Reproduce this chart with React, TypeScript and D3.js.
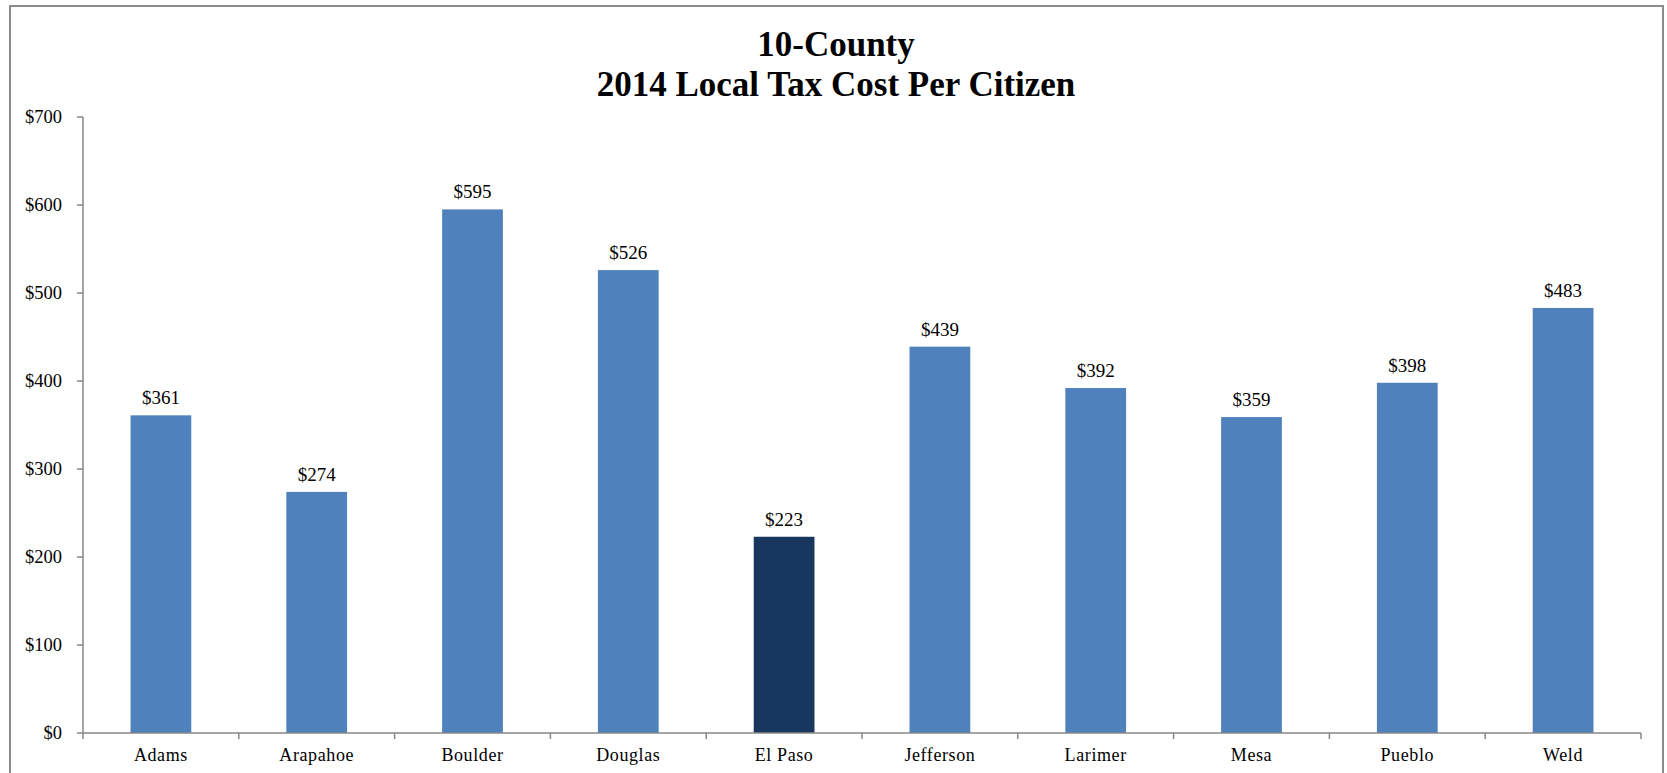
import React from "react";
import * as d3 from "d3";

const counties = ["Adams", "Arapahoe", "Boulder", "Douglas", "El Paso", "Jefferson", "Larimer", "Mesa", "Pueblo", "Weld"];
const costs = [361, 274, 595, 526, 223, 439, 392, 359, 398, 483];
const highlighted = ["El Paso"];
const yTicks = [0, 100, 200, 300, 400, 500, 600, 700];
const titleLines = ["10-County", "2014 Local Tax Cost Per Citizen"];

const W = 1667;
const H = 773;
const left = 83;
const right = 1641;
const top = 117;
const bottom = 733;
const font = "'Liberation Serif', 'Times New Roman', serif";

export default function App() {
  const x = d3.scaleBand<string>().domain(counties).range([left, right]).paddingInner(0.61).paddingOuter(0.305);
  const band = d3.scaleBand<string>().domain(counties).range([left, right]);
  const y = d3.scaleLinear().domain([0, 700]).range([bottom, top]);
  const fmt = (v: number) => "$" + d3.format(",")(v);
  const axisColor = "#878787";

  return (
    <svg width={W} height={H} style={{ position: "absolute", left: 0, top: 0, background: "#fff" }} fontFamily={font}>
      <rect x={10} y={6} width={1653} height={H + 10} fill="#fff" stroke="#8c8c8c" strokeWidth={2} />
      {titleLines.map((t, i) => (
        <text key={t} x={836} y={56 + i * 40} textAnchor="middle" fontSize={35} fontWeight="bold" fill="#000">
          {t}
        </text>
      ))}
      {/* y axis */}
      <line x1={left} x2={left} y1={top} y2={bottom} stroke={axisColor} strokeWidth={1.5} />
      {yTicks.map((t) => (
        <g key={t}>
          <line x1={left - 6} x2={left} y1={y(t)} y2={y(t)} stroke={axisColor} strokeWidth={1.5} />
          <text x={62} y={y(t)} dy="0.33em" textAnchor="end" fontSize={18.5} fill="#000">
            {fmt(t)}
          </text>
        </g>
      ))}
      {/* bars */}
      {counties.map((c, i) => (
        <g key={c}>
          <rect
            x={x(c)}
            y={y(costs[i])}
            width={x.bandwidth()}
            height={y(0) - y(costs[i])}
            fill={highlighted.includes(c) ? "#17375E" : "#4F81BD"}
          />
          <text x={(x(c) as number) + x.bandwidth() / 2} y={y(costs[i]) - 11} textAnchor="middle" fontSize={19} fill="#000">
            {fmt(costs[i])}
          </text>
          <text
            x={(band(c) as number) + band.bandwidth() / 2}
            y={761}
            textAnchor="middle"
            fontSize={18}
            letterSpacing={0.6}
            fill="#000"
          >
            {c}
          </text>
        </g>
      ))}
      {/* x axis */}
      <line x1={left} x2={right} y1={bottom} y2={bottom} stroke={axisColor} strokeWidth={1.5} />
      {d3.range(counties.length + 1).map((k) => {
        const px = left + k * band.step();
        return <line key={k} x1={px} x2={px} y1={bottom} y2={bottom + 6} stroke={axisColor} strokeWidth={1.5} />;
      })}
    </svg>
  );
}
